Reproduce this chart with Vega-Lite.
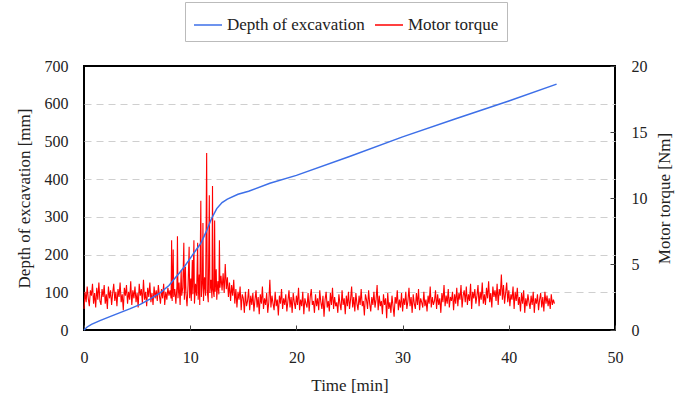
{
  "$schema": "https://vega.github.io/schema/vega-lite/v6.json",
  "autosize": {"type": "none"},
  "padding": {"left": 84, "top": 66, "right": 74, "bottom": 75},
  "width": 531,
  "height": 264,
  "background": "white",
  "config": {
    "font": "Liberation Serif",
    "view": {"stroke": "#000", "strokeWidth": 2},
    "style": {"guide-label": {"font": "Liberation Serif", "fontSize": 16, "fill": "#222"}, "guide-title": {"font": "Liberation Serif", "fontSize": 17, "fill": "#222", "fontWeight": "normal"}},
    "axis": {"labelFont": "Liberation Serif", "titleFont": "Liberation Serif", "labelFontSize": 16, "titleFontSize": 17, "titleFontWeight": "normal", "labelColor": "#222", "titleColor": "#222", "domain": false, "tickColor": "#444", "labelFlush": false},
    "legend": {"labelFont": "Liberation Serif", "labelFontSize": 17, "labelColor": "#222"}
  },
  "datasets": {
    "depth": [
      {"t": 0, "d": 0}, {"t": 0.3, "d": 8}, {"t": 0.7, "d": 15}, {"t": 1.5, "d": 25}, {"t": 2.5, "d": 36},
      {"t": 3.4, "d": 46}, {"t": 4.3, "d": 56}, {"t": 5.3, "d": 68}, {"t": 6.2, "d": 82}, {"t": 7.2, "d": 99},
      {"t": 8.0, "d": 118}, {"t": 8.5, "d": 135}, {"t": 9.0, "d": 152}, {"t": 9.5, "d": 170}, {"t": 10.0, "d": 190},
      {"t": 10.5, "d": 210}, {"t": 11.0, "d": 230}, {"t": 11.5, "d": 260}, {"t": 12.0, "d": 295}, {"t": 12.5, "d": 322},
      {"t": 13.0, "d": 338}, {"t": 13.5, "d": 347}, {"t": 14.5, "d": 360}, {"t": 15.5, "d": 368}, {"t": 17.5, "d": 389},
      {"t": 20, "d": 410}, {"t": 25, "d": 460}, {"t": 30, "d": 512}, {"t": 35, "d": 560}, {"t": 40, "d": 607}, {"t": 44.5, "d": 652}
    ],
    "torque": [
      {"t":0.0,"q":1.6},{"t":0.1,"q":2.9},{"t":0.2,"q":2.1},{"t":0.3,"q":3.3},{"t":0.4,"q":2.4},{"t":0.5,"q":1.8},{"t":0.6,"q":3.0},{"t":0.7,"q":2.6},{"t":0.8,"q":3.5},{"t":0.9,"q":2.0},
      {"t":1.0,"q":2.8},{"t":1.1,"q":1.7},{"t":1.2,"q":3.2},{"t":1.3,"q":2.3},{"t":1.4,"q":3.6},{"t":1.5,"q":2.2},{"t":1.6,"q":1.9},{"t":1.7,"q":3.1},{"t":1.8,"q":2.5},{"t":1.9,"q":3.4},
      {"t":2.0,"q":2.0},{"t":2.1,"q":2.7},{"t":2.2,"q":1.6},{"t":2.3,"q":3.3},{"t":2.4,"q":2.4},{"t":2.5,"q":3.0},{"t":2.6,"q":1.9},{"t":2.7,"q":2.8},{"t":2.8,"q":3.5},{"t":2.9,"q":2.2},
      {"t":3.0,"q":2.9},{"t":3.1,"q":1.8},{"t":3.2,"q":3.1},{"t":3.3,"q":2.5},{"t":3.4,"q":3.6},{"t":3.5,"q":2.1},{"t":3.6,"q":2.7},{"t":3.7,"q":1.5},{"t":3.8,"q":3.2},{"t":3.9,"q":2.6},
      {"t":4.0,"q":3.4},{"t":4.1,"q":2.0},{"t":4.2,"q":2.9},{"t":4.3,"q":2.3},{"t":4.4,"q":3.7},{"t":4.5,"q":1.9},{"t":4.6,"q":3.0},{"t":4.7,"q":2.4},{"t":4.8,"q":3.3},{"t":4.9,"q":2.1},
      {"t":5.0,"q":2.8},{"t":5.1,"q":1.7},{"t":5.2,"q":3.5},{"t":5.3,"q":2.6},{"t":5.4,"q":3.1},{"t":5.5,"q":2.0},{"t":5.6,"q":3.8},{"t":5.7,"q":2.3},{"t":5.8,"q":2.9},{"t":5.9,"q":1.8},
      {"t":6.0,"q":3.2},{"t":6.1,"q":2.5},{"t":6.2,"q":3.6},{"t":6.3,"q":2.1},{"t":6.4,"q":2.8},{"t":6.5,"q":1.9},{"t":6.6,"q":3.3},{"t":6.7,"q":2.4},{"t":6.8,"q":3.0},{"t":6.9,"q":2.2},
      {"t":7.0,"q":3.4},{"t":7.1,"q":2.6},{"t":7.2,"q":2.0},{"t":7.3,"q":3.1},{"t":7.4,"q":2.4},{"t":7.5,"q":3.5},{"t":7.6,"q":1.9},{"t":7.7,"q":2.9},{"t":7.8,"q":2.3},{"t":7.9,"q":3.2},
      {"t":8.0,"q":2.6},{"t":8.1,"q":3.0},{"t":8.2,"q":2.4},{"t":8.25,"q":6.8},{"t":8.3,"q":2.2},{"t":8.35,"q":3.4},{"t":8.4,"q":6.1},{"t":8.45,"q":2.5},{"t":8.55,"q":3.1},{"t":8.65,"q":2.0},
      {"t":8.75,"q":3.3},{"t":8.8,"q":7.1},{"t":8.85,"q":2.4},{"t":8.95,"q":3.6},{"t":9.05,"q":1.9},{"t":9.15,"q":4.5},{"t":9.2,"q":2.6},{"t":9.3,"q":3.2},{"t":9.4,"q":6.6},{"t":9.45,"q":2.3},
      {"t":9.55,"q":4.8},{"t":9.6,"q":2.8},{"t":9.7,"q":1.8},{"t":9.8,"q":3.4},{"t":9.9,"q":6.3},{"t":9.95,"q":2.4},{"t":10.05,"q":3.9},{"t":10.1,"q":2.2},{"t":10.2,"q":5.3},{"t":10.25,"q":2.7},
      {"t":10.35,"q":6.8},{"t":10.4,"q":2.0},{"t":10.5,"q":3.5},{"t":10.6,"q":2.6},{"t":10.7,"q":6.6},{"t":10.75,"q":2.3},{"t":10.85,"q":4.2},{"t":10.9,"q":1.9},{"t":11.0,"q":9.8},{"t":11.05,"q":2.5},
      {"t":11.15,"q":3.7},{"t":11.2,"q":8.1},{"t":11.25,"q":2.2},{"t":11.35,"q":4.0},{"t":11.45,"q":2.6},{"t":11.55,"q":13.4},{"t":11.6,"q":3.0},{"t":11.7,"q":2.1},{"t":11.8,"q":10.2},{"t":11.85,"q":2.8},
      {"t":11.95,"q":3.8},{"t":12.05,"q":2.4},{"t":12.1,"q":10.9},{"t":12.15,"q":3.1},{"t":12.25,"q":2.5},{"t":12.3,"q":8.3},{"t":12.35,"q":2.9},{"t":12.45,"q":4.6},{"t":12.5,"q":2.3},{"t":12.6,"q":3.7},
      {"t":12.7,"q":2.7},{"t":12.75,"q":6.8},{"t":12.8,"q":3.2},{"t":12.9,"q":4.1},
      {"t":13.0,"q":3.0},{"t":13.1,"q":4.3},{"t":13.2,"q":2.8},{"t":13.3,"q":5.0},{"t":13.4,"q":3.1},{"t":13.5,"q":4.0},{"t":13.6,"q":2.5},{"t":13.7,"q":3.6},{"t":13.8,"q":2.2},{"t":13.9,"q":3.4},
      {"t":14.0,"q":2.6},{"t":14.1,"q":3.8},{"t":14.2,"q":2.0},{"t":14.3,"q":3.1},{"t":14.4,"q":1.7},{"t":14.5,"q":2.9},{"t":14.6,"q":2.3},{"t":14.7,"q":3.3},{"t":14.8,"q":1.5},{"t":14.9,"q":2.7},
      {"t":15.0,"q":2.4},{"t":15.1,"q":1.3},{"t":15.2,"q":2.9},{"t":15.3,"q":1.8},{"t":15.4,"q":2.2},{"t":15.5,"q":3.1},{"t":15.6,"q":1.5},{"t":15.7,"q":2.6},{"t":15.8,"q":1.9},{"t":15.9,"q":2.8},
      {"t":16.0,"q":1.4},{"t":16.1,"q":2.3},{"t":16.2,"q":3.0},{"t":16.3,"q":1.7},{"t":16.4,"q":2.5},{"t":16.5,"q":1.2},{"t":16.6,"q":2.7},{"t":16.7,"q":2.0},{"t":16.8,"q":3.3},{"t":16.9,"q":1.6},
      {"t":17.0,"q":2.4},{"t":17.1,"q":1.9},{"t":17.2,"q":2.8},{"t":17.3,"q":1.3},{"t":17.4,"q":2.1},{"t":17.5,"q":3.8},{"t":17.6,"q":1.7},{"t":17.7,"q":2.6},{"t":17.8,"q":2.0},{"t":17.9,"q":1.5},
      {"t":18.0,"q":2.9},{"t":18.1,"q":1.8},{"t":18.2,"q":2.3},{"t":18.3,"q":1.1},{"t":18.4,"q":2.6},{"t":18.5,"q":2.0},{"t":18.6,"q":3.1},{"t":18.7,"q":1.6},{"t":18.8,"q":2.4},{"t":18.9,"q":1.9},
      {"t":19.0,"q":2.7},{"t":19.1,"q":1.4},{"t":19.2,"q":2.2},{"t":19.3,"q":3.0},{"t":19.4,"q":1.7},{"t":19.5,"q":2.5},{"t":19.6,"q":1.3},{"t":19.7,"q":2.8},{"t":19.8,"q":2.1},{"t":19.9,"q":1.6},
      {"t":20.0,"q":2.6},{"t":20.1,"q":1.9},{"t":20.2,"q":3.2},{"t":20.3,"q":1.5},{"t":20.4,"q":2.3},{"t":20.5,"q":1.8},{"t":20.6,"q":2.9},{"t":20.7,"q":1.2},{"t":20.8,"q":2.4},{"t":20.9,"q":2.0},
      {"t":21.0,"q":1.7},{"t":21.1,"q":2.8},{"t":21.2,"q":1.4},{"t":21.3,"q":2.5},{"t":21.4,"q":3.1},{"t":21.5,"q":1.9},{"t":21.6,"q":2.2},{"t":21.7,"q":1.3},{"t":21.8,"q":2.7},{"t":21.9,"q":1.8},
      {"t":22.0,"q":2.4},{"t":22.1,"q":1.5},{"t":22.2,"q":3.0},{"t":22.3,"q":2.1},{"t":22.4,"q":1.6},{"t":22.5,"q":2.6},{"t":22.6,"q":1.0},{"t":22.7,"q":2.3},{"t":22.8,"q":2.9},{"t":22.9,"q":1.7},
      {"t":23.0,"q":2.2},{"t":23.1,"q":1.4},{"t":23.2,"q":2.8},{"t":23.3,"q":1.9},{"t":23.4,"q":3.2},{"t":23.5,"q":1.6},{"t":23.6,"q":2.5},{"t":23.7,"q":1.8},{"t":23.8,"q":2.1},{"t":23.9,"q":1.3},
      {"t":24.0,"q":2.7},{"t":24.1,"q":2.0},{"t":24.2,"q":1.5},{"t":24.3,"q":3.0},{"t":24.4,"q":1.9},{"t":24.5,"q":2.4},{"t":24.6,"q":1.2},{"t":24.7,"q":2.6},{"t":24.8,"q":1.8},{"t":24.9,"q":2.9},
      {"t":25.0,"q":1.6},{"t":25.1,"q":2.3},{"t":25.2,"q":3.3},{"t":25.3,"q":1.7},{"t":25.4,"q":2.5},{"t":25.5,"q":1.4},{"t":25.6,"q":2.8},{"t":25.7,"q":2.0},{"t":25.8,"q":1.5},{"t":25.9,"q":2.6},
      {"t":26.0,"q":1.9},{"t":26.1,"q":3.1},{"t":26.2,"q":1.8},{"t":26.3,"q":2.2},{"t":26.4,"q":1.1},{"t":26.5,"q":2.7},{"t":26.6,"q":2.3},{"t":26.7,"q":1.6},{"t":26.8,"q":3.0},{"t":26.9,"q":2.0},
      {"t":27.0,"q":1.4},{"t":27.1,"q":2.5},{"t":27.2,"q":1.9},{"t":27.3,"q":2.9},{"t":27.4,"q":1.7},{"t":27.5,"q":2.3},{"t":27.6,"q":3.4},{"t":27.7,"q":1.5},{"t":27.8,"q":2.6},{"t":27.9,"q":1.8},
      {"t":28.0,"q":2.2},{"t":28.1,"q":1.2},{"t":28.2,"q":2.7},{"t":28.3,"q":1.9},{"t":28.4,"q":2.4},{"t":28.5,"q":0.9},{"t":28.6,"q":2.8},{"t":28.7,"q":1.6},{"t":28.8,"q":2.1},{"t":28.9,"q":1.3},
      {"t":29.0,"q":2.6},{"t":29.1,"q":1.8},{"t":29.2,"q":1.0},{"t":29.3,"q":2.5},{"t":29.4,"q":2.0},{"t":29.5,"q":3.0},{"t":29.6,"q":1.5},{"t":29.7,"q":2.3},{"t":29.8,"q":1.7},{"t":29.9,"q":2.8},
      {"t":30.0,"q":1.4},{"t":30.1,"q":2.4},{"t":30.2,"q":1.9},{"t":30.3,"q":2.9},{"t":30.4,"q":1.6},{"t":30.5,"q":2.2},{"t":30.6,"q":3.2},{"t":30.7,"q":1.8},{"t":30.8,"q":2.5},{"t":30.9,"q":1.3},
      {"t":31.0,"q":2.7},{"t":31.1,"q":2.0},{"t":31.2,"q":1.6},{"t":31.3,"q":2.8},{"t":31.4,"q":1.9},{"t":31.5,"q":3.1},{"t":31.6,"q":1.5},{"t":31.7,"q":2.4},{"t":31.8,"q":2.1},{"t":31.9,"q":1.7},
      {"t":32.0,"q":2.9},{"t":32.1,"q":1.8},{"t":32.2,"q":2.3},{"t":32.3,"q":1.4},{"t":32.4,"q":2.6},{"t":32.5,"q":2.0},{"t":32.6,"q":3.3},{"t":32.7,"q":1.7},{"t":32.8,"q":2.5},{"t":32.9,"q":1.9},
      {"t":33.0,"q":2.2},{"t":33.1,"q":3.0},{"t":33.2,"q":1.6},{"t":33.3,"q":2.7},{"t":33.4,"q":1.9},{"t":33.5,"q":2.4},{"t":33.6,"q":1.3},{"t":33.7,"q":2.8},{"t":33.8,"q":2.1},{"t":33.9,"q":3.4},
      {"t":34.0,"q":1.8},{"t":34.1,"q":2.6},{"t":34.2,"q":2.0},{"t":34.3,"q":3.1},{"t":34.4,"q":1.7},{"t":34.5,"q":2.5},{"t":34.6,"q":2.2},{"t":34.7,"q":2.9},{"t":34.8,"q":1.5},{"t":34.9,"q":2.7},
      {"t":35.0,"q":2.0},{"t":35.1,"q":3.2},{"t":35.2,"q":1.8},{"t":35.3,"q":2.8},{"t":35.4,"q":2.3},{"t":35.5,"q":3.4},{"t":35.6,"q":1.7},{"t":35.7,"q":2.6},{"t":35.8,"q":3.0},{"t":35.9,"q":2.1},
      {"t":36.0,"q":3.3},{"t":36.1,"q":1.9},{"t":36.2,"q":2.7},{"t":36.3,"q":2.2},{"t":36.4,"q":3.5},{"t":36.5,"q":1.6},{"t":36.6,"q":2.9},{"t":36.7,"q":2.4},{"t":36.8,"q":3.1},{"t":36.9,"q":2.0},
      {"t":37.0,"q":2.6},{"t":37.1,"q":3.4},{"t":37.2,"q":1.8},{"t":37.3,"q":2.9},{"t":37.4,"q":2.3},{"t":37.5,"q":3.6},{"t":37.6,"q":2.0},{"t":37.7,"q":2.7},{"t":37.8,"q":1.9},{"t":37.9,"q":3.2},
      {"t":38.0,"q":2.4},{"t":38.1,"q":3.7},{"t":38.2,"q":2.1},{"t":38.3,"q":2.8},{"t":38.4,"q":1.7},{"t":38.5,"q":3.3},{"t":38.6,"q":2.5},{"t":38.7,"q":3.0},{"t":38.8,"q":2.2},{"t":38.9,"q":3.5},
      {"t":39.0,"q":1.9},{"t":39.1,"q":3.1},{"t":39.2,"q":2.6},{"t":39.3,"q":4.2},{"t":39.4,"q":2.3},{"t":39.5,"q":3.4},{"t":39.6,"q":2.0},{"t":39.7,"q":2.8},{"t":39.8,"q":3.6},{"t":39.9,"q":2.1},
      {"t":40.0,"q":3.0},{"t":40.1,"q":1.8},{"t":40.2,"q":2.7},{"t":40.3,"q":2.3},{"t":40.4,"q":3.3},{"t":40.5,"q":1.6},{"t":40.6,"q":2.9},{"t":40.7,"q":2.2},{"t":40.8,"q":3.2},{"t":40.9,"q":1.9},
      {"t":41.0,"q":2.5},{"t":41.1,"q":1.4},{"t":41.2,"q":2.8},{"t":41.3,"q":2.0},{"t":41.4,"q":3.0},{"t":41.5,"q":1.3},{"t":41.6,"q":2.4},{"t":41.7,"q":1.8},{"t":41.8,"q":2.7},{"t":41.9,"q":2.1},
      {"t":42.0,"q":1.6},{"t":42.1,"q":2.6},{"t":42.2,"q":1.9},{"t":42.3,"q":2.9},{"t":42.4,"q":1.3},{"t":42.5,"q":2.4},{"t":42.6,"q":2.0},{"t":42.7,"q":2.7},{"t":42.8,"q":1.5},{"t":42.9,"q":2.3},
      {"t":43.0,"q":2.8},{"t":43.1,"q":1.7},{"t":43.2,"q":2.5},{"t":43.3,"q":1.4},{"t":43.4,"q":2.9},{"t":43.5,"q":2.0},{"t":43.6,"q":2.6},{"t":43.7,"q":1.8},{"t":43.8,"q":2.4},{"t":43.9,"q":1.6},
      {"t":44.0,"q":2.7},{"t":44.1,"q":1.9},{"t":44.2,"q":2.3},{"t":44.3,"q":2.0}
    ]
  },
  "encoding": {
    "x": {"field": "t", "type": "quantitative", "scale": {"domain": [0, 50], "nice": false}, "axis": {"values": [0, 10, 20, 30, 40, 50], "title": "Time [min]", "grid": false, "tickSize": -5, "labelPadding": 24, "titlePadding": 12, "labelFlush": false, "labelFont": "Liberation Serif", "titleFont": "Liberation Serif"}}
  },
  "layer": [
    {
      "data": {"name": "torque"},
      "mark": {"type": "line", "strokeWidth": 1.1, "interpolate": "linear"},
      "encoding": {
        "y": {"field": "q", "type": "quantitative", "scale": {"domain": [0, 20], "nice": false}, "axis": {"orient": "right", "values": [0, 5, 10, 15, 20], "title": "Motor torque [Nm]", "grid": false, "tickSize": -5, "labelPadding": 21, "titleAngle": -90, "titlePadding": 26, "labelFlush": false, "labelFont": "Liberation Serif", "titleFont": "Liberation Serif"}},
        "color": {"datum": "Motor torque", "type": "nominal", "scale": {"domain": ["Depth of excavation", "Motor torque"], "range": ["#3d6fe8", "#ff0000"]}, "legend": {"orient": "none", "legendX": 101, "legendY": -64, "direction": "horizontal", "title": null, "strokeColor": "#bbb", "padding": 8, "symbolType": "stroke", "symbolSize": 784, "symbolStrokeWidth": 1.5, "labelOffset": 4, "columnPadding": 7}}
      }
    },
    {
      "data": {"name": "depth"},
      "mark": {"type": "line", "strokeWidth": 1.5},
      "encoding": {
        "y": {"field": "d", "type": "quantitative", "scale": {"domain": [0, 700], "nice": false}, "axis": {"orient": "left", "values": [0, 100, 200, 300, 400, 500, 600, 700], "title": "Depth of excavation [mm]", "grid": true, "gridColor": "#cfcfcf", "gridDash": [7, 5], "gridWidth": 1.2, "gridOpacity": {"condition": {"test": "datum.value === 0 || datum.value === 700", "value": 0}, "value": 1}, "ticks": false, "labelPadding": 16, "titlePadding": 11, "labelFlush": false, "labelFont": "Liberation Serif", "titleFont": "Liberation Serif"}},
        "color": {"datum": "Depth of excavation", "type": "nominal"}
      }
    }
  ],
  "resolve": {"scale": {"y": "independent"}}
}
